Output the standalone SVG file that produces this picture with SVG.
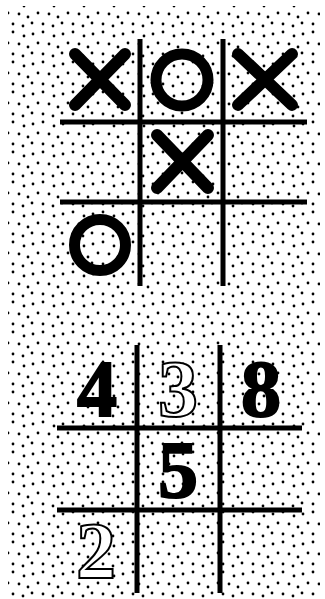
<svg xmlns="http://www.w3.org/2000/svg" width="325" height="599" viewBox="0 0 325 599">
  <defs>
    <pattern id="dots" x="0" y="0" width="30" height="30" patternUnits="userSpaceOnUse">
      <circle cx="3" cy="4" r="1.4"/>
      <circle cx="13" cy="2" r="1.4"/>
      <circle cx="24" cy="6" r="1.4"/>
      <circle cx="8" cy="13" r="1.4"/>
      <circle cx="19" cy="14" r="1.4"/>
      <circle cx="28" cy="17" r="1.4"/>
      <circle cx="2" cy="23" r="1.4"/>
      <circle cx="13" cy="24" r="1.4"/>
      <circle cx="23" cy="26" r="1.4"/>
    </pattern>
    <style>
      .grid { stroke: #000; stroke-width: 5; fill: none; }
      .x { stroke: #000; stroke-width: 12; stroke-linecap: round; fill: none; }
      .o { stroke: #000; stroke-width: 11; fill: none; }
      .num { font-family: "Liberation Serif", "Times New Roman", serif; font-weight: bold; font-size: 80px; text-anchor: middle; }
      .solid { fill: #000; stroke: #000; stroke-width: 2; }
      .outline { fill: #fff; stroke: #000; stroke-width: 2; }
    </style>
  </defs>
  <rect width="325" height="599" fill="#fff"/>
  <rect x="8" y="6" width="312" height="593" fill="url(#dots)"/>

  <g id="board-xo">
    <g id="grid-xo">
      <line class="grid" x1="140" y1="39" x2="140" y2="286"/>
      <line class="grid" x1="223" y1="39" x2="223" y2="286"/>
      <line class="grid" x1="60" y1="122" x2="307" y2="122"/>
      <line class="grid" x1="60" y1="202" x2="307" y2="202"/>
    </g>
    <g id="x-top-left">
      <line class="x" x1="75" y1="54" x2="125" y2="105"/>
      <line class="x" x1="125" y1="54" x2="75" y2="105"/>
    </g>
    <g id="o-top-mid">
      <circle class="o" cx="182" cy="80" r="26"/>
    </g>
    <g id="x-top-right">
      <line class="x" x1="238" y1="54" x2="292" y2="105"/>
      <line class="x" x1="292" y1="54" x2="238" y2="105"/>
    </g>
    <g id="x-center">
      <line class="x" x1="157" y1="135" x2="208" y2="188"/>
      <line class="x" x1="208" y1="135" x2="157" y2="188"/>
    </g>
    <g id="o-bottom-left">
      <circle class="o" cx="100" cy="245" r="25.5"/>
    </g>
  </g>

  <g id="board-numbers">
    <g id="grid-numbers">
      <line class="grid" x1="137" y1="345" x2="137" y2="593"/>
      <line class="grid" x1="220" y1="345" x2="220" y2="593"/>
      <line class="grid" x1="57" y1="428" x2="302" y2="428"/>
      <line class="grid" x1="57" y1="510" x2="302" y2="510"/>
    </g>
    <g id="n4"><text class="num solid" x="97" y="416">4</text></g>
    <g id="n3"><text class="num outline" x="178" y="416">3</text></g>
    <g id="n8"><text class="num solid" x="261" y="416">8</text></g>
    <g id="n5"><text class="num solid" x="178" y="497">5</text></g>
    <g id="n2"><text class="num outline" x="96" y="578">2</text></g>
  </g>
</svg>
